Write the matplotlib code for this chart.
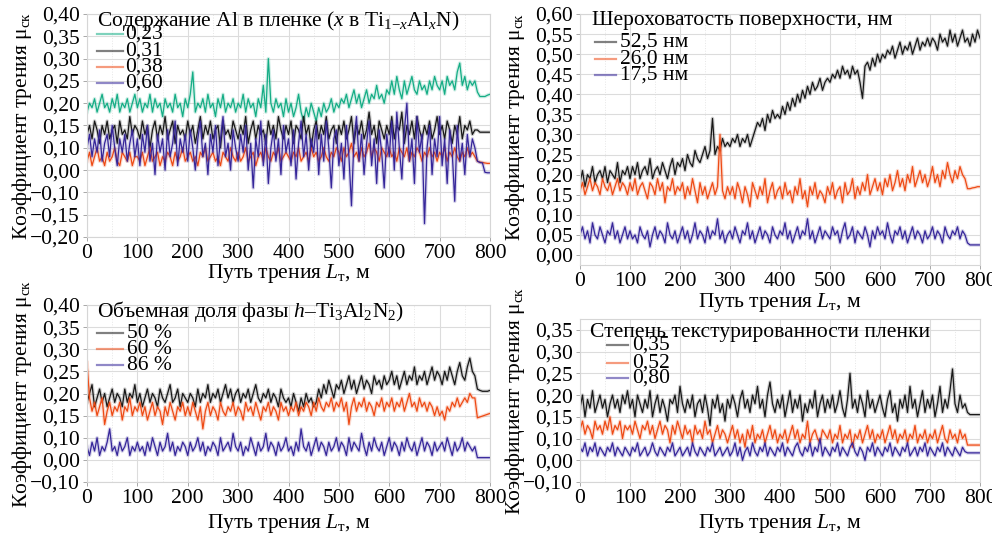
import numpy as np
import matplotlib
matplotlib.use("Agg")
import matplotlib.pyplot as plt
from matplotlib.lines import Line2D

plt.rcParams['font.family'] = ['Liberation Serif', 'DejaVu Serif']
plt.rcParams['mathtext.fontset'] = 'custom'
plt.rcParams['mathtext.rm'] = 'Liberation Serif'
plt.rcParams['mathtext.it'] = 'Liberation Serif:italic'
plt.rcParams['mathtext.bf'] = 'Liberation Serif:bold'
plt.rcParams['axes.unicode_minus'] = True

FS = 15.5

# ---------------- data ----------------
# sliding distance grid, m (one reading every 5 m, 0..800)
dist = list(range(0, 805, 5))

x_ticks = [0, 100, 200, 300, 400, 500, 600, 700, 800]
x_ticklabels = ["0", "100", "200", "300", "400", "500", "600", "700", "800"]

# Panel 1: Al content x in Ti(1-x)Al(x)N
p1_labels = ["0,23", "0,31", "0,38", "0,60"]
p1_yticks = [0.40, 0.35, 0.30, 0.25, 0.20, 0.15, 0.10, 0.05, 0.00, -0.05, -0.10]
p1_yticklabels = ["0,40", "0,35", "0,30", "0,25", "0,20", "0,15", "0,10", "0,00", "\u22120,10", "\u22120,15", "\u22120,20"]
p1_x023 = [
    0.18,0.20,0.19,0.21,0.18,0.20,0.22,0.19,0.20,0.18,0.21,0.19,0.22,0.18,0.20,0.19,0.21,0.18,0.20,0.22,
    0.19,0.21,0.18,0.20,0.19,0.22,0.18,0.21,0.19,0.20,0.17,0.21,0.19,0.20,0.18,0.22,0.19,0.20,0.17,0.21,
    0.19,0.22,0.27,0.18,0.20,0.19,0.21,0.18,0.22,0.19,0.20,0.17,0.21,0.19,0.22,0.18,0.20,0.19,0.21,0.18,
    0.20,0.19,0.22,0.18,0.21,0.19,0.20,0.17,0.21,0.19,0.24,0.18,0.30,0.20,0.18,0.21,0.19,0.20,0.17,0.21,
    0.18,0.20,0.17,0.19,0.22,0.18,0.16,0.19,0.17,0.20,0.18,0.16,0.19,0.17,0.20,0.18,0.19,0.21,0.18,0.20,
    0.19,0.21,0.20,0.22,0.19,0.21,0.23,0.20,0.22,0.19,0.21,0.23,0.20,0.22,0.21,0.24,0.21,0.22,0.20,0.23,
    0.22,0.25,0.22,0.26,0.23,0.21,0.25,0.22,0.24,0.26,0.23,0.22,0.25,0.23,0.24,0.22,0.25,0.23,0.26,0.24,
    0.23,0.25,0.22,0.26,0.24,0.25,0.23,0.27,0.29,0.24,0.26,0.23,0.25,0.24,0.25,
    0.225,0.215,0.215,0.215,0.218,0.22]
p1_x031 = [
    0.13,0.15,0.12,0.16,0.14,0.11,0.15,0.13,0.16,0.12,0.14,0.15,0.11,0.16,0.13,0.14,0.12,0.17,0.13,0.15,
    0.14,0.12,0.16,0.13,0.15,0.10,0.14,0.16,0.12,0.15,0.13,0.17,0.12,0.14,0.16,0.11,0.15,0.13,0.14,0.12,
    0.16,0.13,0.15,0.11,0.14,0.17,0.12,0.15,0.13,0.16,0.12,0.14,0.15,0.10,0.16,0.13,0.14,0.12,0.16,0.14,
    0.12,0.15,0.13,0.17,0.11,0.14,0.16,0.12,0.15,0.13,0.14,0.11,0.16,0.13,0.15,0.12,0.17,0.14,0.12,0.15,
    0.13,0.16,0.11,0.15,0.14,0.12,0.17,0.13,0.15,0.10,0.14,0.16,0.12,0.15,0.13,0.17,0.12,0.14,0.15,0.11,
    0.15,0.13,0.16,0.12,0.14,0.17,0.11,0.15,0.13,0.16,0.12,0.14,0.18,0.13,0.15,0.11,0.16,0.14,0.12,0.15,
    0.13,0.17,0.12,0.15,0.14,0.18,0.11,0.15,0.13,0.16,0.12,0.17,0.14,0.12,0.15,0.13,0.16,0.12,0.14,0.17,
    0.13,0.15,0.12,0.16,0.14,0.11,0.15,0.13,0.17,0.12,0.15,0.14,0.16,0.13,0.14,
    0.14,0.135,0.135,0.135,0.135,0.135]
p1_x038 = [
    0.07,0.09,0.06,0.08,0.10,0.07,0.08,0.06,0.09,0.07,0.08,0.10,0.07,0.06,0.09,0.08,0.07,0.09,0.06,0.08,
    0.08,0.07,0.09,0.06,0.08,0.10,0.07,0.08,0.09,0.06,0.08,0.07,0.09,0.08,0.06,0.09,0.07,0.08,0.10,0.07,
    0.08,0.09,0.07,0.08,0.06,0.09,0.08,0.10,0.07,0.08,0.09,0.07,0.08,0.06,0.09,0.08,0.07,0.10,0.08,0.07,
    0.09,0.07,0.08,0.10,0.07,0.08,0.09,0.06,0.08,0.09,0.07,0.10,0.08,0.07,0.09,0.08,0.10,0.07,0.08,0.09,
    0.08,0.07,0.09,0.08,0.10,0.07,0.08,0.09,0.07,0.10,0.08,0.09,0.07,0.08,0.10,0.08,0.07,0.09,0.08,0.10,
    0.09,0.07,0.10,0.08,0.09,0.11,0.08,0.09,0.07,0.10,0.08,0.09,0.11,0.08,0.10,0.09,0.07,0.10,0.09,0.08,
    0.10,0.08,0.09,0.07,0.10,0.09,0.08,0.10,0.07,0.09,0.08,0.10,0.09,0.07,0.09,0.08,0.10,0.08,0.09,0.07,
    0.09,0.08,0.10,0.07,0.09,0.08,0.10,0.08,0.07,0.09,0.08,0.10,0.08,0.09,0.08,
    0.07,0.068,0.067,0.066,0.065,0.065]
p1_x060 = [
    0.10,0.13,0.08,0.12,0.09,0.14,0.07,0.11,0.13,0.08,0.15,0.10,0.06,0.12,0.09,0.13,0.07,0.11,0.14,0.08,
    0.12,0.06,0.13,0.09,0.15,0.07,0.11,0.04,0.13,0.09,0.12,0.05,0.14,0.08,0.11,0.16,0.06,0.12,0.09,0.13,
    0.07,0.14,0.10,0.05,0.12,0.16,0.08,0.11,0.04,0.13,0.09,0.15,0.06,0.12,0.17,0.08,0.11,0.05,0.14,0.10,
    0.07,0.13,0.09,0.15,0.05,0.11,0.01,0.12,0.08,0.16,0.06,0.13,0.02,0.10,0.14,0.07,0.12,0.04,0.15,0.09,
    0.12,0.06,0.14,0.03,0.11,0.16,0.08,0.13,0.05,0.12,0.09,0.15,0.04,0.13,0.07,0.16,0.10,0.01,0.12,0.14,
    0.06,0.11,0.03,0.15,0.08,-0.03,0.12,0.17,0.07,0.13,0.04,0.11,0.16,0.06,0.12,0.02,0.14,0.09,0.01,0.13,
    0.08,0.16,0.05,0.18,0.10,0.03,0.14,0.20,0.07,0.12,0.02,0.17,0.09,0.13,-0.07,0.10,0.15,0.04,0.12,0.08,
    0.17,0.06,0.12,0.02,0.14,0.09,-0.02,0.15,0.07,0.11,0.04,0.13,0.08,0.12,0.10,
    0.07,0.067,0.066,0.045,0.044,0.044]

# Panel 2: surface roughness
p2_labels = ["52,5 нм", "26,0 нм", "17,5 нм"]
p2_yticks = [0.60, 0.55, 0.50, 0.45, 0.40, 0.35, 0.30, 0.25, 0.20, 0.15, 0.10, 0.05, 0.00]
p2_yticklabels = ["0,60", "0,55", "0,50", "0,45", "0,40", "0,35", "0,30", "0,25", "0,20", "0,15", "0,10", "0,05", "0,00"]
p2_r525 = [
    0.18,0.21,0.17,0.20,0.19,0.22,0.18,0.20,0.21,0.19,0.22,0.18,0.21,0.20,0.19,0.23,0.18,0.21,0.20,0.22,
    0.19,0.22,0.20,0.23,0.19,0.21,0.22,0.20,0.24,0.19,0.21,0.22,0.20,0.23,0.21,0.19,0.22,0.24,0.20,0.23,
    0.22,0.24,0.21,0.25,0.23,0.22,0.26,0.24,0.23,0.25,0.27,0.24,0.26,0.34,0.25,0.27,0.26,0.29,0.27,0.28,
    0.27,0.29,0.28,0.30,0.27,0.29,0.28,0.30,0.27,0.29,0.31,0.33,0.32,0.34,0.31,0.35,0.33,0.36,0.34,0.35,
    0.34,0.37,0.35,0.38,0.36,0.39,0.37,0.40,0.38,0.41,0.39,0.42,0.40,0.43,0.41,0.42,0.44,0.41,0.43,0.44,
    0.43,0.45,0.44,0.46,0.44,0.47,0.45,0.46,0.44,0.47,0.45,0.46,0.43,0.39,0.47,0.48,0.46,0.49,0.47,0.50,
    0.48,0.50,0.49,0.51,0.50,0.52,0.49,0.51,0.53,0.50,0.52,0.51,0.53,0.50,0.52,0.54,0.51,0.53,0.52,0.54,
    0.52,0.54,0.53,0.51,0.55,0.53,0.54,0.52,0.56,0.53,0.55,0.52,0.54,0.56,0.53,
    0.54,0.52,0.55,0.53,0.56,0.54]
p2_r260 = [
    0.16,0.18,0.15,0.17,0.19,0.16,0.18,0.17,0.15,0.19,0.17,0.16,0.18,0.15,0.17,0.19,0.16,0.18,0.17,0.15,
    0.18,0.16,0.19,0.15,0.17,0.18,0.16,0.14,0.18,0.17,0.15,0.19,0.16,0.18,0.13,0.17,0.16,0.19,0.15,0.17,
    0.16,0.18,0.14,0.17,0.15,0.19,0.16,0.13,0.18,0.15,0.17,0.14,0.16,0.18,0.15,0.17,0.30,0.16,0.14,0.17,
    0.15,0.17,0.14,0.18,0.16,0.13,0.17,0.15,0.12,0.18,0.16,0.14,0.17,0.15,0.19,0.13,0.16,0.18,0.14,0.16,
    0.17,0.14,0.18,0.15,0.16,0.13,0.17,0.15,0.19,0.14,0.16,0.12,0.17,0.15,0.18,0.14,0.16,0.15,0.13,0.17,
    0.15,0.18,0.14,0.16,0.17,0.13,0.18,0.15,0.16,0.19,0.14,0.17,0.15,0.18,0.16,0.20,0.15,0.17,0.19,0.16,
    0.18,0.15,0.19,0.17,0.20,0.16,0.18,0.21,0.17,0.19,0.16,0.20,0.18,0.22,0.17,0.19,0.21,0.18,0.20,0.17,
    0.19,0.22,0.18,0.20,0.17,0.21,0.19,0.23,0.20,0.18,0.21,0.19,0.22,0.20,0.19,
    0.165,0.165,0.167,0.168,0.17,0.17]
p2_r175 = [
    0.05,0.07,0.04,0.06,0.03,0.08,0.05,0.04,0.07,0.05,0.03,0.06,0.05,0.08,0.04,0.06,0.03,0.05,0.07,0.04,
    0.06,0.04,0.05,0.03,0.07,0.05,0.04,0.06,0.02,0.05,0.07,0.04,0.06,0.05,0.03,0.08,0.05,0.04,0.06,0.03,
    0.05,0.07,0.04,0.06,0.03,0.05,0.08,0.04,0.06,0.05,0.03,0.07,0.04,0.06,0.05,0.09,0.04,0.06,0.03,0.05,
    0.06,0.04,0.07,0.05,0.03,0.06,0.05,0.08,0.04,0.06,0.03,0.05,0.07,0.04,0.06,0.05,0.03,0.07,0.05,0.04,
    0.06,0.05,0.08,0.04,0.06,0.03,0.05,0.07,0.04,0.06,0.05,0.09,0.04,0.06,0.03,0.05,0.07,0.04,0.06,0.05,
    0.04,0.07,0.05,0.06,0.03,0.06,0.08,0.04,0.05,0.07,0.03,0.06,0.05,0.04,0.07,0.05,0.02,0.06,0.04,0.07,
    0.05,0.06,0.04,0.08,0.05,0.03,0.06,0.05,0.07,0.04,0.06,0.03,0.05,0.07,0.04,0.06,0.05,0.03,0.06,0.04,
    0.05,0.07,0.04,0.06,0.05,0.03,0.07,0.05,0.04,0.06,0.05,0.07,0.04,0.06,0.05,
    0.03,0.025,0.025,0.025,0.025,0.025]

# Panel 3: volume fraction of h-Ti3Al2N2
p3_labels = ["50 %", "60 %", "86 %"]
p3_yticks = [0.40, 0.35, 0.30, 0.25, 0.20, 0.15, 0.10, 0.05, 0.00]
p3_yticklabels = ["0,40", "0,35", "0,30", "0,25", "0,20", "0,15", "0,10", "0,00", "\u22120,10"]
p3_v50 = [
    0.18,0.20,0.22,0.17,0.19,0.21,0.18,0.20,0.17,0.19,0.21,0.18,0.20,0.19,0.17,0.21,0.18,0.20,0.19,0.22,
    0.18,0.20,0.17,0.19,0.21,0.18,0.20,0.19,0.17,0.21,0.19,0.18,0.20,0.22,0.18,0.19,0.21,0.17,0.20,0.19,
    0.18,0.20,0.19,0.17,0.21,0.18,0.20,0.19,0.22,0.18,0.20,0.19,0.21,0.18,0.20,0.22,0.19,0.21,0.18,0.20,
    0.21,0.18,0.20,0.19,0.21,0.18,0.20,0.22,0.19,0.18,0.20,0.19,0.21,0.18,0.20,0.19,0.17,0.21,0.19,0.18,
    0.19,0.17,0.20,0.18,0.16,0.19,0.17,0.20,0.18,0.19,0.17,0.18,0.21,0.19,0.22,0.20,0.23,0.21,0.19,0.22,
    0.21,0.23,0.20,0.22,0.24,0.21,0.23,0.20,0.22,0.24,0.21,0.23,0.22,0.20,0.24,0.22,0.23,0.21,0.24,0.22,
    0.23,0.25,0.22,0.24,0.21,0.23,0.25,0.22,0.24,0.23,0.26,0.22,0.24,0.23,0.25,0.22,0.24,0.26,0.23,0.25,
    0.24,0.22,0.25,0.23,0.26,0.24,0.22,0.25,0.27,0.24,0.23,0.26,0.28,0.25,0.24,
    0.21,0.207,0.205,0.205,0.205,0.207]
p3_v60 = [
    0.27,0.19,0.16,0.18,0.15,0.17,0.19,0.13,0.16,0.18,0.15,0.17,0.16,0.18,0.14,0.17,0.16,0.19,0.15,0.17,
    0.16,0.18,0.15,0.17,0.14,0.16,0.18,0.15,0.17,0.16,0.13,0.17,0.15,0.18,0.16,0.14,0.17,0.16,0.18,0.15,
    0.17,0.15,0.18,0.16,0.14,0.17,0.12,0.16,0.18,0.15,0.17,0.16,0.14,0.18,0.16,0.15,0.17,0.16,0.18,0.15,
    0.17,0.16,0.14,0.18,0.16,0.17,0.15,0.18,0.16,0.14,0.17,0.16,0.18,0.15,0.17,0.16,0.14,0.18,0.16,0.17,
    0.15,0.17,0.16,0.18,0.15,0.17,0.16,0.18,0.17,0.15,0.18,0.16,0.19,0.17,0.16,0.18,0.17,0.19,0.16,0.18,
    0.17,0.19,0.16,0.18,0.13,0.17,0.19,0.16,0.18,0.17,0.19,0.16,0.18,0.17,0.15,0.18,0.17,0.19,0.16,0.18,
    0.17,0.19,0.16,0.18,0.17,0.19,0.16,0.18,0.20,0.17,0.18,0.16,0.19,0.17,0.18,0.16,0.18,0.17,0.15,0.17,
    0.15,0.16,0.14,0.17,0.16,0.18,0.17,0.19,0.17,0.18,0.19,0.18,0.20,0.19,0.19,
    0.145,0.147,0.149,0.151,0.153,0.155]
p3_v86 = [
    0.08,0.06,0.09,0.07,0.10,0.06,0.08,0.07,0.09,0.12,0.07,0.08,0.06,0.09,0.07,0.08,0.10,0.06,0.08,0.07,
    0.09,0.07,0.08,0.06,0.09,0.07,0.10,0.08,0.06,0.09,0.07,0.08,0.11,0.07,0.09,0.06,0.08,0.07,0.09,0.08,
    0.06,0.09,0.07,0.08,0.10,0.07,0.09,0.06,0.08,0.07,0.09,0.08,0.06,0.10,0.07,0.08,0.09,0.07,0.11,0.08,
    0.07,0.09,0.06,0.08,0.07,0.10,0.08,0.06,0.09,0.07,0.08,0.11,0.07,0.09,0.08,0.06,0.09,0.07,0.08,0.10,
    0.07,0.08,0.06,0.09,0.07,0.12,0.08,0.07,0.09,0.06,0.08,0.10,0.07,0.09,0.08,0.06,0.09,0.07,0.08,0.10,
    0.07,0.09,0.08,0.06,0.10,0.07,0.09,0.08,0.07,0.11,0.08,0.06,0.09,0.07,0.10,0.08,0.07,0.09,0.06,0.08,
    0.10,0.07,0.09,0.08,0.06,0.09,0.07,0.10,0.08,0.07,0.09,0.06,0.08,0.10,0.07,0.09,0.08,0.06,0.09,0.07,
    0.08,0.09,0.07,0.10,0.08,0.06,0.09,0.07,0.08,0.10,0.07,0.09,0.08,0.07,0.08,
    0.055,0.055,0.055,0.055,0.055,0.055]

# Panel 4: texture degree
p4_labels = ["0,35", "0,52", "0,80"]
p4_yticks = [0.35, 0.30, 0.25, 0.20, 0.15, 0.10, 0.05, 0.00]
p4_yticklabels = ["0,35", "0,30", "0,25", "0,20", "0,15", "0,10", "0,00", "\u22120,10"]
p4_t035 = [
    0.17,0.20,0.15,0.19,0.17,0.21,0.16,0.18,0.20,0.17,0.19,0.15,0.18,0.20,0.17,0.19,0.16,0.20,0.18,0.21,
    0.17,0.19,0.15,0.20,0.18,0.16,0.19,0.17,0.21,0.15,0.18,0.20,0.16,0.19,0.17,0.14,0.19,0.18,0.20,0.16,
    0.22,0.18,0.16,0.19,0.17,0.20,0.15,0.18,0.19,0.16,0.20,0.17,0.13,0.19,0.17,0.20,0.16,0.18,0.14,0.19,
    0.17,0.20,0.18,0.15,0.19,0.21,0.17,0.19,0.16,0.20,0.18,0.22,0.17,0.19,0.15,0.20,0.23,0.18,0.16,0.19,
    0.17,0.20,0.15,0.18,0.21,0.16,0.19,0.17,0.20,0.14,0.18,0.16,0.19,0.17,0.21,0.15,0.18,0.20,0.16,0.19,
    0.17,0.20,0.16,0.18,0.21,0.17,0.15,0.19,0.25,0.17,0.19,0.16,0.20,0.18,0.15,0.21,0.17,0.19,0.16,0.18,
    0.20,0.17,0.15,0.19,0.21,0.16,0.18,0.14,0.19,0.17,0.20,0.16,0.22,0.17,0.19,0.15,0.18,0.21,0.16,0.19,
    0.17,0.20,0.15,0.18,0.22,0.16,0.19,0.17,0.21,0.26,0.18,0.16,0.20,0.17,0.18,
    0.16,0.155,0.155,0.155,0.155,0.155]
p4_t052 = [
    0.12,0.14,0.11,0.13,0.12,0.10,0.14,0.12,0.13,0.11,0.14,0.12,0.15,0.11,0.13,0.12,0.14,0.10,0.13,0.12,
    0.13,0.11,0.14,0.12,0.10,0.13,0.12,0.14,0.11,0.13,0.10,0.12,0.14,0.11,0.13,0.12,0.09,0.13,0.11,0.14,
    0.12,0.10,0.13,0.11,0.12,0.09,0.13,0.11,0.12,0.10,0.14,0.11,0.12,0.09,0.11,0.13,0.10,0.12,0.11,0.09,
    0.11,0.13,0.10,0.12,0.09,0.11,0.08,0.12,0.10,0.13,0.09,0.11,0.10,0.12,0.09,0.11,0.13,0.10,0.12,0.09,
    0.11,0.10,0.12,0.09,0.11,0.13,0.10,0.12,0.09,0.11,0.10,0.14,0.09,0.11,0.12,0.10,0.09,0.12,0.11,0.10,
    0.12,0.09,0.11,0.10,0.13,0.09,0.11,0.10,0.12,0.08,0.11,0.10,0.12,0.09,0.11,0.13,0.10,0.12,0.09,0.11,
    0.10,0.12,0.09,0.11,0.13,0.10,0.12,0.09,0.11,0.10,0.12,0.09,0.11,0.10,0.13,0.09,0.11,0.10,0.12,0.09,
    0.11,0.10,0.12,0.09,0.11,0.13,0.10,0.09,0.12,0.10,0.11,0.09,0.12,0.10,0.11,
    0.085,0.085,0.085,0.085,0.085,0.085]
p4_t080 = [
    0.08,0.07,0.09,0.06,0.08,0.07,0.09,0.06,0.08,0.07,0.06,0.08,0.07,0.09,0.06,0.08,0.07,0.06,0.08,0.07,
    0.06,0.08,0.07,0.09,0.06,0.07,0.08,0.06,0.07,0.09,0.07,0.06,0.08,0.07,0.06,0.08,0.07,0.09,0.06,0.07,
    0.08,0.06,0.07,0.08,0.06,0.09,0.07,0.06,0.08,0.07,0.06,0.08,0.07,0.09,0.06,0.07,0.08,0.06,0.07,0.08,
    0.06,0.07,0.09,0.06,0.08,0.05,0.07,0.08,0.06,0.09,0.07,0.06,0.08,0.07,0.09,0.06,0.08,0.07,0.06,0.08,
    0.07,0.09,0.06,0.08,0.07,0.06,0.08,0.09,0.07,0.06,0.08,0.07,0.09,0.06,0.08,0.07,0.10,0.06,0.08,0.07,
    0.06,0.08,0.07,0.09,0.06,0.08,0.07,0.06,0.08,0.09,0.07,0.06,0.08,0.07,0.05,0.08,0.07,0.09,0.06,0.08,
    0.07,0.06,0.08,0.07,0.09,0.06,0.08,0.07,0.06,0.08,0.07,0.09,0.06,0.07,0.08,0.06,0.08,0.07,0.09,0.06,
    0.08,0.07,0.06,0.08,0.07,0.09,0.06,0.08,0.07,0.06,0.08,0.07,0.06,0.08,0.07,
    0.067,0.067,0.067,0.067,0.067,0.067]

# ---------------- style ----------------
C_GREEN = "#14ad85"
C_BLACK = "#181818"
C_ORANGE = "#ee4a14"
C_PURPLE = "#36269a"

YLABEL = "Коэффициент трения μ$_{\\mathrm{ск}}$"
XLABEL = "Путь трения $L_{\\mathrm{т}}$, м"

W, H = 992, 534
fig = plt.figure(figsize=(W / 100, H / 100), dpi=100)


def px_axes(left, top, right, bottom):
    return fig.add_axes([left / W, 1 - bottom / H, (right - left) / W, (bottom - top) / H])


def style_axes(ax, yticks, yticklabels, ylim, xlab_off, ylab_x, ylab_y=0.5):
    ax.set_xlim(0, 800)
    ax.set_ylim(*ylim)
    ax.set_xticks(x_ticks)
    ax.set_xticklabels(x_ticklabels)
    ax.set_yticks(yticks)
    ax.set_yticklabels(yticklabels)
    ax.set_xticks([50, 150, 250, 350, 450, 550, 650, 750], minor=True)
    ax.tick_params(axis='both', which='major', labelsize=FS, length=3, width=0.6,
                   color='#9a9a9a', pad=2)
    ax.tick_params(axis='x', which='minor', length=0)
    ax.grid(True, which='major', color='#dcdcdc', lw=0.8, ls='-')
    ax.grid(True, which='minor', axis='x', color='#e6e6e6', lw=0.7, ls=':')
    ax.set_axisbelow(True)
    for s in ax.spines.values():
        s.set_color('#d6d6d6')
        s.set_linewidth(0.8)
    ax.set_ylabel(YLABEL, fontsize=FS)
    ax.set_xlabel(XLABEL, fontsize=FS)
    ax.yaxis.set_label_coords(ylab_x, ylab_y)
    ax.xaxis.set_label_coords(0.5, xlab_off)


def draw_series(ax, y, color):
    xs = dist[:len(y)]
    ax.plot(xs, y, color=color, lw=2.6, alpha=0.2)
    ax.plot(xs, y, color=color, lw=0.9, alpha=1.0)


def manual_legend(ax, title, labels, colors, title_off, hx, tx, rows):
    bb = ax.get_position()
    aw, ah = bb.width * W, bb.height * H
    ax.text(title_off[0] / aw, 1 - title_off[1] / ah, title, transform=ax.transAxes,
            ha='left', va='center', fontsize=FS, zorder=10)
    for lab, col, dy in zip(labels, colors, rows):
        yy = 1 - dy / ah
        ax.add_line(Line2D([hx[0] / aw, hx[1] / aw], [yy, yy], transform=ax.transAxes,
                           color=col, lw=1.6, alpha=0.55, zorder=10))
        ax.text(tx / aw, yy, lab, transform=ax.transAxes, ha='left', va='center',
                fontsize=FS, zorder=10)


# Panel 1 (top left)
ax1 = px_axes(87, 14, 490, 237)
style_axes(ax1, p1_yticks, p1_yticklabels, (-0.10, 0.40), -0.114, -0.131)
for y, c in zip([p1_x023, p1_x031, p1_x038, p1_x060], [C_GREEN, C_BLACK, C_ORANGE, C_PURPLE]):
    draw_series(ax1, y, c)
manual_legend(ax1, "Содержание Al в пленке ($x$ в Ti$_{1\\mathrm{-}x}$Al$_x$N)", p1_labels,
              [C_GREEN, C_BLACK, C_ORANGE, C_PURPLE], (10, 7), (10, 36), 38, [20, 37, 53, 69])

# Panel 2 (top right)
ax2 = px_axes(580, 14, 980, 265)
style_axes(ax2, p2_yticks, p2_yticklabels, (-0.025, 0.60), -0.102, -0.1325, 0.55)
for y, c in zip([p2_r525, p2_r260, p2_r175], [C_BLACK, C_ORANGE, C_PURPLE]):
    draw_series(ax2, y, c)
manual_legend(ax2, "Шероховатость поверхности, нм", p2_labels,
              [C_BLACK, C_ORANGE, C_PURPLE], (12, 6), (15, 36), 40, [28, 45, 61])

# Panel 3 (bottom left)
ax3 = px_axes(87, 305, 490, 482)
style_axes(ax3, p3_yticks, p3_yticklabels, (0.0, 0.40), -0.172, -0.131)
for y, c in zip([p3_v50, p3_v60, p3_v86], [C_BLACK, C_ORANGE, C_PURPLE]):
    draw_series(ax3, y, c)
manual_legend(ax3, "Объемная доля фазы $h$–Ti$_3$Al$_2$N$_2$)", p3_labels,
              [C_BLACK, C_ORANGE, C_PURPLE], (10, 7), (10, 36), 40, [28, 44, 60])

# Panel 4 (bottom right)
ax4 = px_axes(580, 319, 980, 482)
style_axes(ax4, p4_yticks, p4_yticklabels, (0.0, 0.375), -0.187, -0.1325)
for y, c in zip([p4_t035, p4_t052, p4_t080], [C_BLACK, C_ORANGE, C_PURPLE]):
    draw_series(ax4, y, c)
manual_legend(ax4, "Степень текстурированности пленки", p4_labels,
              [C_BLACK, C_ORANGE, C_PURPLE], (10, 13), (27, 48), 52, [26, 44, 59])

fig.savefig("out.png", dpi=100)
